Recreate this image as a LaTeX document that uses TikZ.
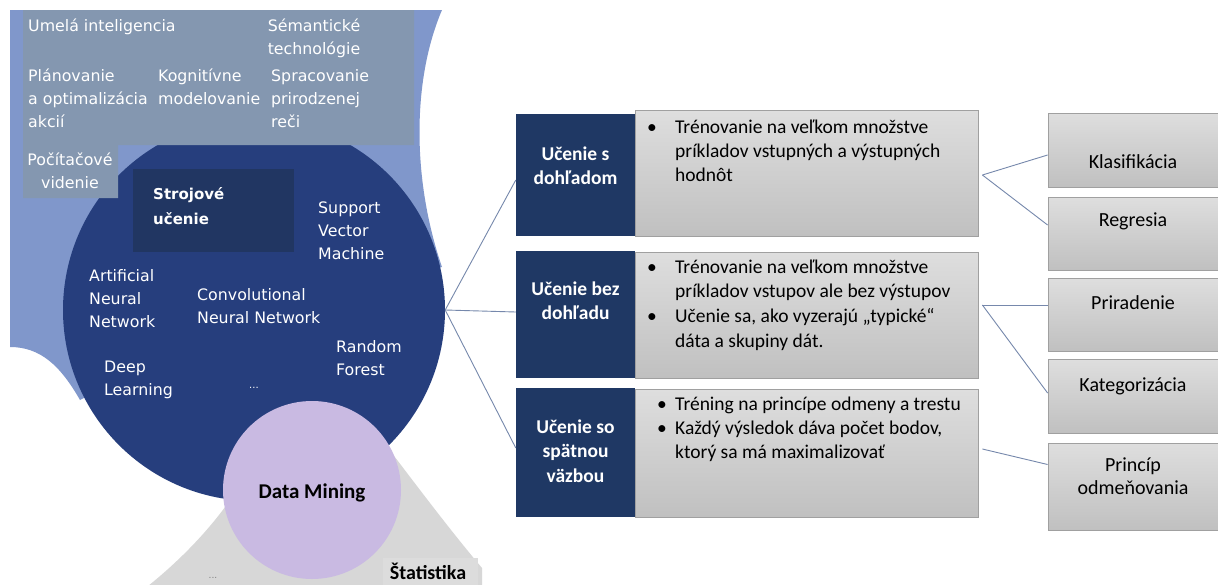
\documentclass[tikz,border=0pt]{standalone}
\usepackage{fontspec}
\setmainfont{Carlito}
\newfontfamily\dvs{DejaVu Sans}
\definecolor{lblue}{RGB}{128,151,203}
\definecolor{gboxc}{RGB}{132,151,176}
\definecolor{dcirc}{RGB}{38,62,125}
\definecolor{sboxc}{RGB}{33,54,98}
\definecolor{dboxc}{RGB}{31,56,100}
\definecolor{lav}{RGB}{201,186,226}
\definecolor{lgray}{RGB}{215,215,215}
\definecolor{lgrayb}{RGB}{220,220,220}
\definecolor{connc}{RGB}{118,136,172}
\definecolor{gtop}{RGB}{222,222,222}
\definecolor{gbot}{RGB}{192,192,192}
\definecolor{gedge}{RGB}{160,160,160}
\begin{document}
\begin{tikzpicture}[x=1pt,y=-1pt,
  lt/.style={font=\dvs\fontsize{15.8}{23.4}\selectfont, text=white, inner sep=0pt, align=left, anchor=base west},
  ltc/.style={lt, align=center, anchor=base},
  rt/.style={font=\fontsize{19.5}{24}\selectfont, inner sep=0pt, align=left, anchor=base west},
  hdt/.style={font=\bfseries\fontsize{19.5}{24.5}\selectfont, text=white, inner sep=0pt, align=center, anchor=base},
  hdbox/.style={fill=dboxc, draw=none, inner sep=0pt},
  gbox/.style={draw=gedge, line width=0.8pt, top color=gtop, bottom color=gbot, inner sep=0pt},
  kt/.style={font=\fontsize{20}{23.5}\selectfont, inner sep=0pt, align=center, anchor=base},
  conn/.style={draw=connc, line width=0.9pt},
]
\useasboundingbox (0,0) rectangle (1218,584);
\clip (0,0) rectangle (1218,584);
\fill[white] (0,0) rectangle (1218,584);
% light blue region
\fill[lblue] (10,10) -- (442,10) .. controls (412,80) and (412,180) .. (442,267)
  -- (254,310) -- (80,400) .. controls (60,365) and (40,347) .. (10,347) -- cycle;
% gray bottom region
\fill[lgray] (143,590) .. controls (175,565) and (205,535) .. (228,503) -- (300,470)
  -- (388,448) .. controls (420,490) and (450,530) .. (482,568) -- (482,590) -- cycle;
% dark circle (machine learning)
\node[circle, fill=dcirc, minimum size=382pt, inner sep=0pt] (ml) at (254,310) {};
% lavender circle (data mining)
\node[circle, fill=lav, minimum size=178pt, inner sep=0pt] (dm) at (312,490) {};
% top gray L-shaped box
\fill[gboxc] (23,10) -- (414,10) -- (414,145) -- (118,145) -- (118,198) -- (23,198) -- cycle;
% Strojove ucenie box
\node[fill=sboxc, minimum width=161pt, minimum height=83pt, inner sep=0pt] (sb) at (213.5,210.5) {};
% left texts (anchor = baseline of last line)
\node[lt] (t1) at (28,31) {Umelá inteligencia};
\node[ltc] (t2) at (314,54.4) {Sémantické\\technológie};
\node[lt] (t3) at (28,127.8) {Plánovanie\\a optimalizácia\\akcií};
\node[lt] (t4) at (158,104.4) {Kognitívne\\modelovanie};
\node[lt] (t5) at (271,127.8) {Spracovanie\\prirodzenej\\reči};
\node[ltc] (t6) at (70,188.4) {Počítačové\\videnie};
\node[font=\dvs\bfseries\fontsize{15}{25}\selectfont, text=white, inner sep=0pt, align=left, anchor=base west] (t7) at (153,224) {Strojové\\učenie};
\node[lt] (t8) at (318,259.8) {Support\\Vector\\Machine};
\node[lt] (t9) at (89,327.8) {Artificial\\Neural\\Network};
\node[lt] (t10) at (197,323.4) {Convolutional\\Neural Network};
\node[lt] (t11) at (336,375.4) {Random\\Forest};
\node[lt] (t12) at (104,395.4) {Deep\\Learning};
\node[font=\dvs\fontsize{10}{12}\selectfont, text=white, inner sep=0pt, anchor=base] (t13) at (254,388) {...};
\node[font=\bfseries\fontsize{21}{24}\selectfont, inner sep=0pt, anchor=base] (t14) at (312,498) {Data Mining};
\node[fill=lgrayb, minimum width=95pt, minimum height=28pt, inner sep=0pt] (st) at (430.5,572) {};
\node[font=\bfseries\fontsize{20}{24}\selectfont, inner sep=0pt, anchor=base] (t15) at (428,579) {Štatistika};
\node[font=\dvs\fontsize{9}{12}\selectfont, text=gray, inner sep=0pt, anchor=base] (t16) at (213,578) {...};
% right: gray content boxes
\node[gbox, minimum width=343pt, minimum height=126pt] (g1) at (806.5,173) {};
\node[gbox, minimum width=343pt, minimum height=126pt] (g2) at (806.5,315) {};
\node[gbox, minimum width=343pt, minimum height=128pt] (g3) at (806.5,453) {};
% dark header boxes
\node[hdbox, minimum width=119pt, minimum height=122pt] (h1) at (575.5,175) {};
\node[hdbox, minimum width=119pt, minimum height=127pt] (h2) at (575.5,314.5) {};
\node[hdbox, minimum width=119pt, minimum height=129pt] (h3) at (575.5,452.5) {};
\node[hdt] (h1t) at (575.5,184.5) {Učenie s\\dohľadom};
\node[hdt] (h2t) at (575.5,319.5) {Učenie bez\\dohľadu};
\node[hdt] (h3t) at (575.5,482) {Učenie so\\spätnou\\väzbou};
% content texts
\node[rt] (g1t) at (675,181) {\llap{\makebox[28pt][l]{•}}Trénovanie na veľkom množstve\\príkladov vstupných a výstupných\\hodnôt};
\node[rt, font=\fontsize{19.5}{24.7}\selectfont] (g2t) at (675,347.1) {\llap{\makebox[28pt][l]{•}}Trénovanie na veľkom množstve\\príkladov vstupov ale bez výstupov\\\llap{\makebox[28pt][l]{•}}Učenie sa, ako vyzerajú „typické“\\dáta a skupiny dát.};
\node[rt] (g3t) at (675,458) {\llap{\makebox[18pt][l]{•}}Tréning na princípe odmeny a trestu\\\llap{\makebox[18pt][l]{•}}Každý výsledok dáva počet bodov,\\ktorý sa má maximalizovať};
% small right boxes
\node[gbox, minimum width=176pt, minimum height=74pt] (k1) at (1136,150) {};
\node[gbox, minimum width=176pt, minimum height=73pt] (k2) at (1136,233.5) {};
\node[gbox, minimum width=176pt, minimum height=73pt] (k3) at (1136,314.5) {};
\node[gbox, minimum width=176pt, minimum height=74pt] (k4) at (1136,396) {};
\node[gbox, minimum width=176pt, minimum height=87pt] (k5) at (1136,486.5) {};
\node[kt] (k1t) at (1133,168) {Klasifikácia};
\node[kt] (k2t) at (1133,226) {Regresia};
\node[kt] (k3t) at (1133,309) {Priradenie};
\node[kt] (k4t) at (1133,391) {Kategorizácia};
\node[kt] (k5t) at (1133,494.5) {Princíp\\odmeňovania};
% connectors
\draw[conn] (ml.east) -- ([yshift=-5pt]h1.west);
\draw[conn] (ml.east) -- ([yshift=2.5pt]h2.west);
\draw[conn] (ml.east) -- ([yshift=4.5pt]h3.west);
\draw[conn] ([xshift=4pt,yshift=-2pt]g1.east) -- ([yshift=-5pt]k1.west);
\draw[conn] ([xshift=4pt,yshift=-2pt]g1.east) -- ([yshift=8.5pt]k2.west);
\draw[conn] ([xshift=4pt,yshift=10pt]g2.east) -- ([yshift=9.5pt]k3.west);
\draw[conn] ([xshift=4pt,yshift=10pt]g2.east) -- ([yshift=3pt]k4.west);
\draw[conn] ([xshift=4pt,yshift=4pt]g3.east) -- ([yshift=22pt]k5.west);
\end{tikzpicture}
\end{document}
